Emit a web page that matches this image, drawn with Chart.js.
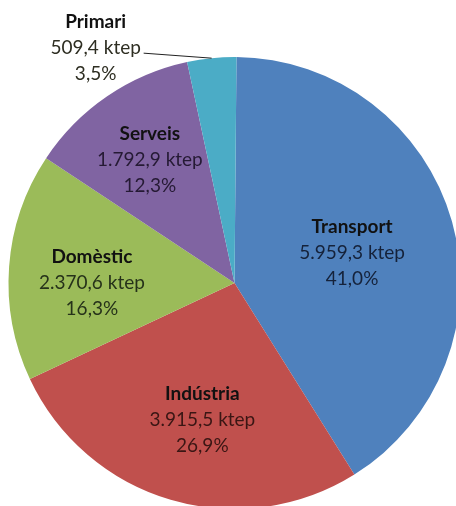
<!DOCTYPE html>
<html>
<head>
<meta charset="utf-8">
<script src="https://cdn.jsdelivr.net/npm/chart.js@4/dist/chart.umd.min.js"></script>
<style>
html,body{margin:0;padding:0;background:#fff;overflow:hidden;}
#wrap{position:relative;width:456px;height:506px;overflow:hidden;}
canvas{display:block;position:absolute;left:0;top:0;}
</style>
</head>
<body>
<div id="wrap"><canvas id="c" width="470" height="520"></canvas></div>
<script>
const categories = ['Transport', 'Indústria', 'Domèstic', 'Serveis', 'Primari'];
const ktep = [5959.3, 3915.5, 2370.6, 1792.9, 509.4];
const ktepLabels = ['5.959,3 ktep', '3.915,5 ktep', '2.370,6 ktep', '1.792,9 ktep', '509,4 ktep'];
const pctLabels = ['41,0%', '26,9%', '16,3%', '12,3%', '3,5%'];
const colors = ['#4F81BD', '#C0504D', '#9BBB59', '#8064A2', '#4BACC6'];
const textColors = ['#15223a', '#3a1614', '#26321a', '#251a34', '#2e2e22'];
// label anchor: fraction of radius and angle offset (degrees) from slice middle
const labelRadius = [0.537, 0.623, 0.631, 0.660, null];
const labelTurn = [1.4, -3.2, -4.3, -0.3, 0];

const FONT = 'Lato, "Open Sans", sans-serif';
const FS = 19;
const LH = 26;

const labelPlugin = {
  id: 'sliceLabels',
  afterDatasetsDraw(chart) {
    const ctx = chart.ctx;
    const meta = chart.getDatasetMeta(0);
    ctx.save();
    ctx.textAlign = 'center';
    ctx.textBaseline = 'middle';
    meta.data.forEach((arc, i) => {
      const p = arc.getProps(['x', 'y', 'startAngle', 'endAngle', 'outerRadius'], true);
      const mid = (p.startAngle + p.endAngle) / 2 + labelTurn[i] * Math.PI / 180;
      let cx, cy;
      if (labelRadius[i] !== null) {
        cx = p.x + Math.cos(mid) * p.outerRadius * labelRadius[i];
        cy = p.y + Math.sin(mid) * p.outerRadius * labelRadius[i];
      } else {
        const ex = p.x + Math.cos(mid) * p.outerRadius;
        const ey = p.y + Math.sin(mid) * p.outerRadius;
        const lx = ex - 68, ly = ey - 5;
        ctx.strokeStyle = '#222';
        ctx.lineWidth = 1;
        ctx.beginPath();
        ctx.moveTo(ex, ey);
        ctx.lineTo(lx, ly);
        ctx.stroke();
        cx = lx - 48;
        cy = ly - 5;
      }
      ctx.fillStyle = '#111';
      ctx.font = 'bold ' + FS + 'px ' + FONT;
      ctx.fillText(categories[i], cx, cy - LH);
      ctx.fillStyle = textColors[i];
      ctx.font = FS + 'px ' + FONT;
      ctx.fillText(ktepLabels[i], cx, cy);
      ctx.fillText(pctLabels[i], cx, cy + LH);
    });
    ctx.restore();
  }
};

new Chart(document.getElementById('c'), {
  type: 'pie',
  data: {
    labels: categories,
    datasets: [{
      data: ktep,
      backgroundColor: colors,
      borderWidth: 0
    }]
  },
  options: {
    responsive: false,
    animation: false,
    devicePixelRatio: 1,
    rotation: 0.5,
    layout: { padding: { left: 8.5, right: 9.5, top: 57, bottom: 11 } },
    plugins: { legend: { display: false }, tooltip: { enabled: false } }
  },
  plugins: [labelPlugin]
});
</script>
</body>
</html>
